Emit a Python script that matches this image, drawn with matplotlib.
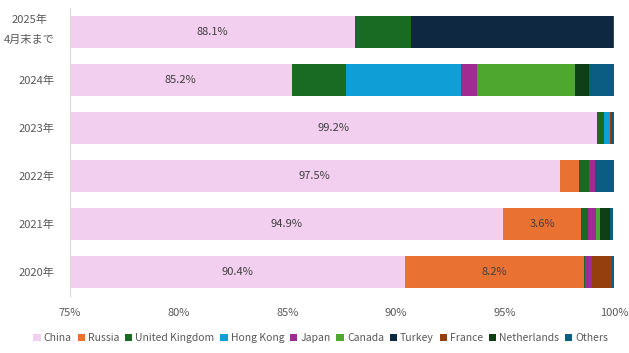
"""
Horizontal stacked bar chart of import share by origin country (75%-100% zoom)
"""
#%% Import libraries ###########################################################
import numpy as np
import matplotlib
matplotlib.use('Agg')
import matplotlib.pyplot as plt
from matplotlib.patches import Patch

plt.rcParams['font.family'] = ['Noto Sans CJK JP', 'DejaVu Sans']

#%% Data #######################################################################
years = ['2020年', '2021年', '2022年', '2023年', '2024年', '2025年\n4月末まで']
countries = ['China', 'Russia', 'United Kingdom', 'Hong Kong', 'Japan',
             'Canada', 'Turkey', 'France', 'Netherlands', 'Others']
# shares (%) per year, in the order of `years`
china       = [90.4, 94.9, 97.5, 99.2, 85.2, 88.1]
russia      = [8.2, 3.6, 0.87, 0.0, 0.0, 0.0]
uk          = [0.07, 0.32, 0.46, 0.35, 2.48, 2.57]
hong_kong   = [0.0, 0.0, 0.0, 0.27, 5.28, 0.0]
japan       = [0.34, 0.37, 0.28, 0.0, 0.74, 0.0]
canada      = [0.0, 0.18, 0.0, 0.0, 4.5, 0.0]
turkey      = [0.0, 0.0, 0.0, 0.0, 0.0, 9.3]
france      = [0.9, 0.0, 0.0, 0.05, 0.0, 0.0]
netherlands = [0.0, 0.46, 0.0, 0.0, 0.64, 0.0]
others      = [0.1, 0.14, 0.92, 0.13, 1.2, 0.03]
series = [china, russia, uk, hong_kong, japan, canada, turkey, france, netherlands, others]
# which segments get a value label: (series index, year index)
labelled = [(0, i) for i in range(len(years))] + [(1, 0), (1, 1)]
xticks = [75, 80, 85, 90, 95, 100]

colors = ['#F2CEEF', '#E97132', '#196B24', '#0F9ED5', '#A02B93',
          '#4EA72E', '#0E2841', '#953E0E', '#0F3F17', '#0B5E82']

#%% Plot #######################################################################
def main():
    fig = plt.figure(figsize=(6.29, 3.53), dpi=100)
    ax = fig.add_axes([0.1105, 0.1615, 0.8657, 0.8159])
    y = np.arange(len(years))
    left = np.zeros(len(years))
    lefts = []
    for vals, col in zip(series, colors):
        vals = np.array(vals)
        ax.barh(y, vals, left=left, height=0.667, color=col, linewidth=0)
        lefts.append(left.copy())
        left = left + vals

    xmin, xmax = 75, 100
    for s, i in labelled:
        l = max(lefts[s][i], xmin)
        r = lefts[s][i] + series[s][i]
        ax.text((l + r) / 2, y[i], f'{series[s][i]:.1f}%', ha='center', va='center',
                fontsize=8, color='#404040')

    ax.set_xlim(xmin, xmax)
    ax.set_ylim(-0.5, len(years) - 0.5)
    # single-line year labels as ticks, the two-line one drawn by hand
    ax.set_yticks(y)
    ax.set_yticklabels([t if '\n' not in t else '' for t in years],
                       fontsize=8, color='#595959')
    for i, t in enumerate(years):
        if '\n' in t:
            ax.annotate(t, xy=(0, y[i]), xycoords=ax.get_yaxis_transform(),
                        xytext=(-10.5, 1.5), textcoords='offset points',
                        ha='right', va='center', multialignment='center',
                        linespacing=2.3, fontsize=8, color='#595959')
    ax.set_xticks(xticks)
    ax.set_xticklabels([f'{t}%' for t in xticks], fontsize=8, color='#595959')
    ax.tick_params(axis='y', length=0, pad=11)
    ax.tick_params(axis='x', length=0, pad=9)
    for side in ['top', 'right', 'bottom']:
        ax.spines[side].set_visible(False)
    ax.spines['left'].set_color('#D9D9D9')

    handles = [Patch(facecolor=c, edgecolor='none') for c in colors]
    fig.legend(handles, countries, loc='center', bbox_to_anchor=(0.51, 0.043),
               ncol=len(countries), frameon=False, fontsize=7.5, labelcolor='#595959',
               handlelength=0.7, handleheight=0.7, handletextpad=0.3, columnspacing=0.55)

    fig.savefig('out.png', dpi=100)

#%% Run main ###################################################################
if __name__ == '__main__':
    main()
